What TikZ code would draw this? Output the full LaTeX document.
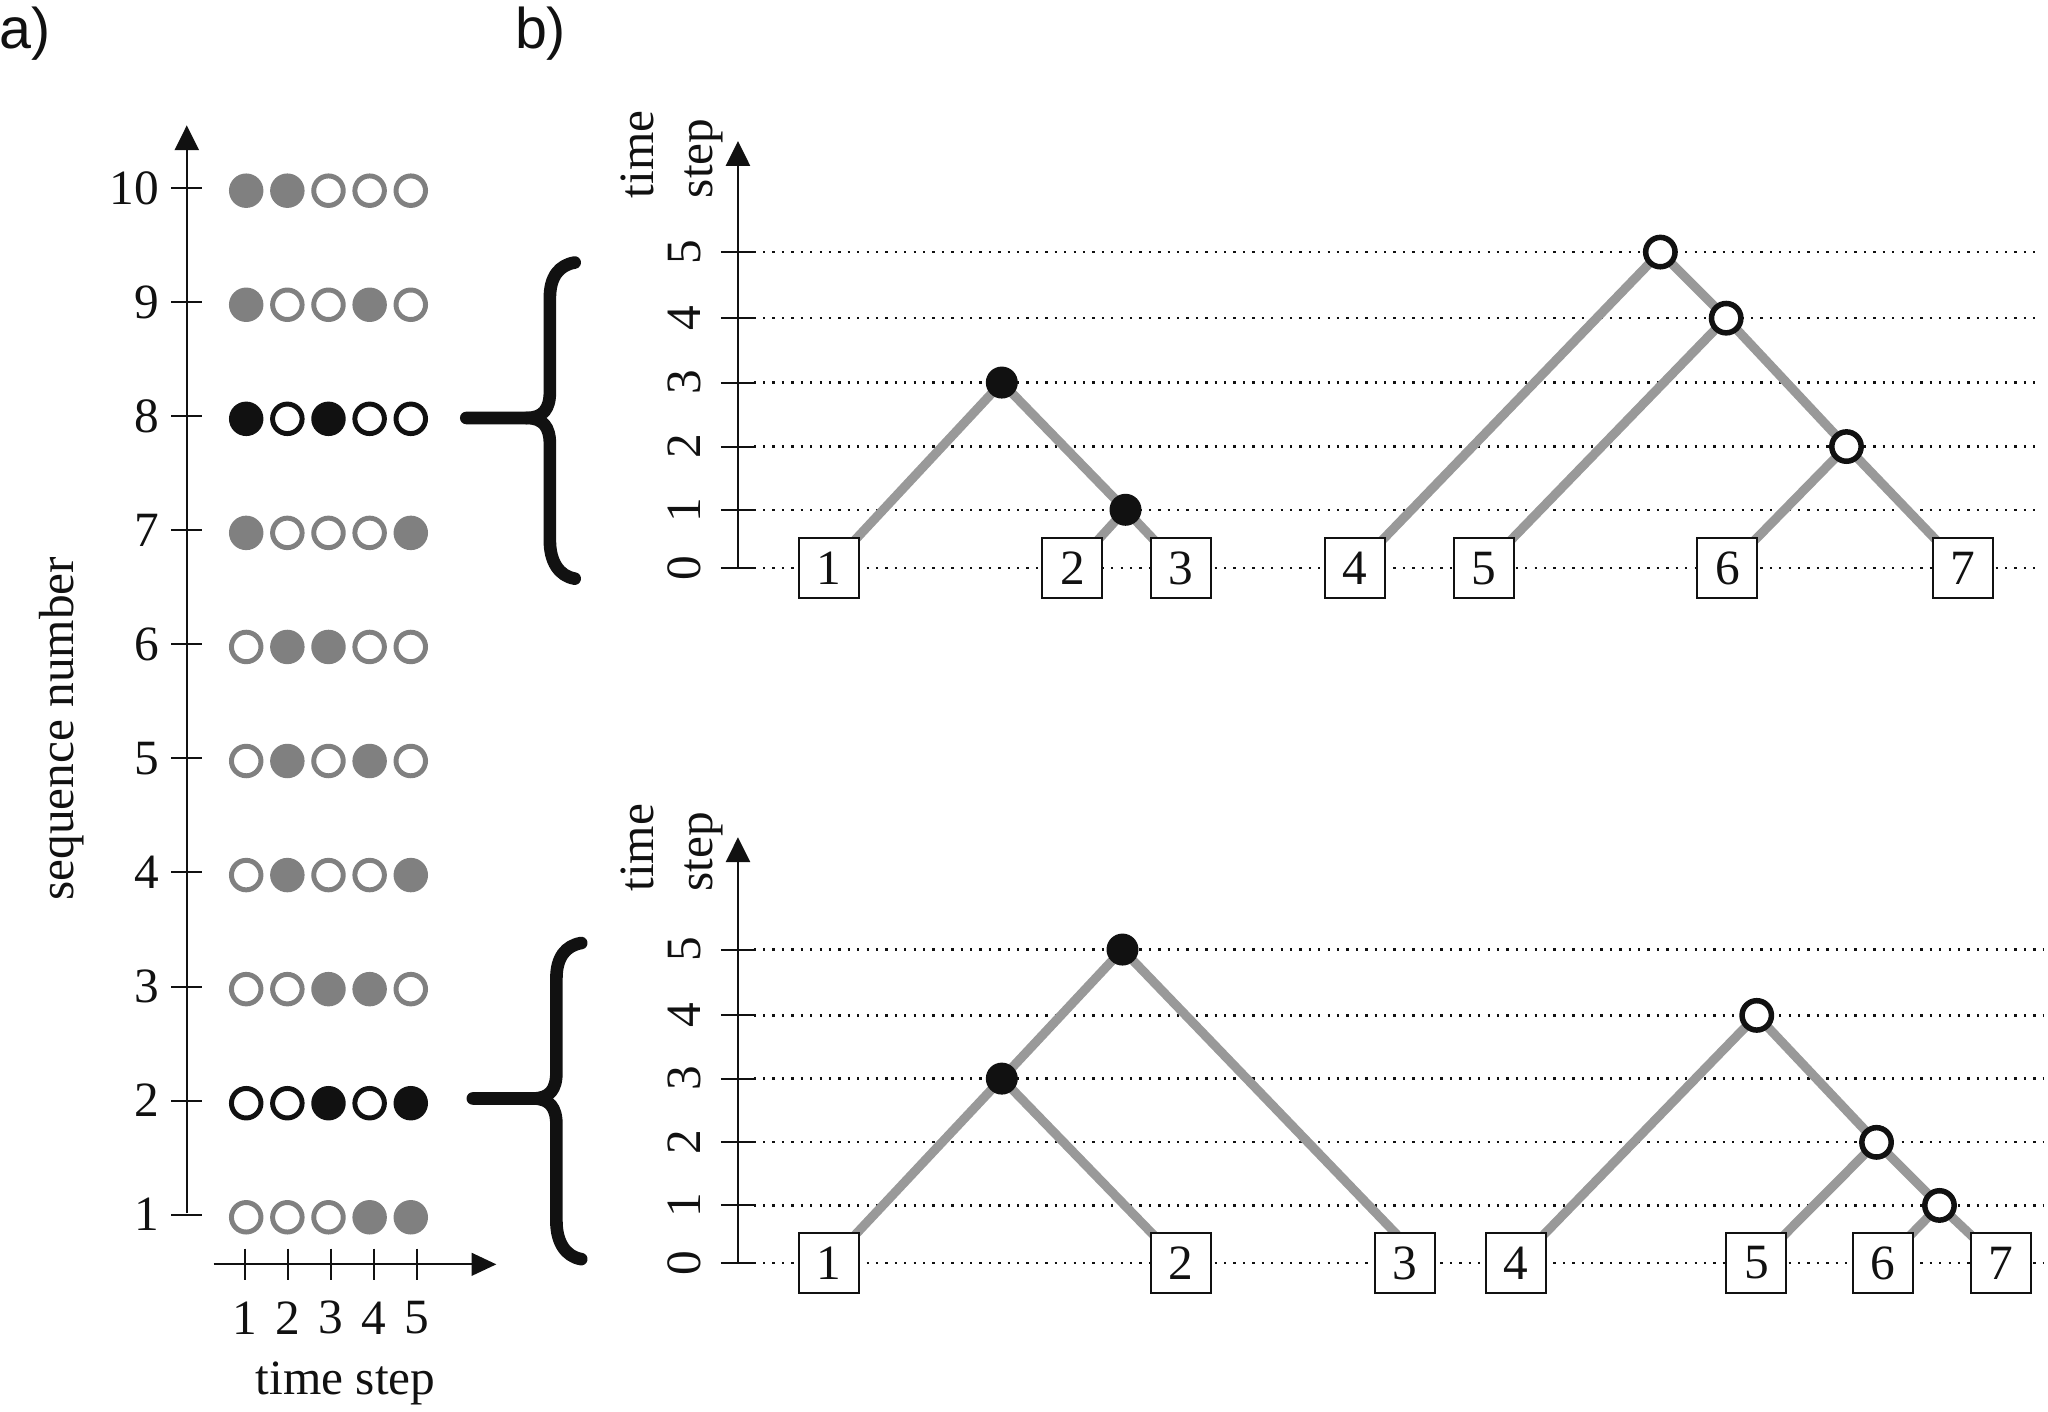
\documentclass[tikz,border=0pt]{standalone}
\usepackage{fontspec}
\setmainfont{Liberation Serif}
\newfontfamily\labfont{Liberation Sans}
\usetikzlibrary{arrows.meta,calc}
\pgfdeclarelayer{bg}
\pgfsetlayers{bg,main}
\definecolor{ink}{HTML}{111111}
\definecolor{dotgray}{HTML}{808080}
\definecolor{edgegray}{HTML}{999999}
\begin{document}
\begin{tikzpicture}[x=0.02cm, y=-0.02cm,
  txt/.style={font=\fontsize{21.5}{25.6}\selectfont, inner sep=0pt, text=ink},
  labtxt/.style={font=\labfont\fontsize{25}{30}\selectfont, inner sep=0pt, text=ink},
  axisline/.style={line width=0.85pt, draw=ink},
  tipV/.style={-{Triangle[length=0.38cm,width=0.37cm]}},
  tipH/.style={-{Triangle[length=0.38cm,width=0.35cm]}},
  st1g/.style={circle, inner sep=0pt, fill=dotgray, minimum size=0.528cm},
  st0g/.style={circle, inner sep=0pt, draw=dotgray, line width=2.16pt, minimum size=0.452cm},
  st1k/.style={circle, inner sep=0pt, fill=ink, minimum size=0.528cm},
  st0k/.style={circle, inner sep=0pt, draw=ink, line width=2.16pt, minimum size=0.452cm},
  brace/.style={line width=5.5pt, draw=ink, line cap=round, line join=round},
  leafbox/.style={txt, draw=ink, fill=white, line width=0.85pt, minimum size=0.92cm},
  blk/.style={circle, inner sep=0pt, fill=ink, minimum size=0.49cm},
  opn/.style={circle, inner sep=0pt, draw=ink, fill=white, line width=2.4pt, minimum size=0.45cm},
  edge/.style={line width=4pt, draw=edgegray},
  dotline/.style={line width=1pt, draw=ink, dash pattern=on 1pt off 3.1pt}
]
\useasboundingbox (0,0) rectangle (1568,1081);

% panel labels
\node[labtxt, anchor=base west] (la) at (-1,37) {a)};
\node[labtxt, anchor=base west] (lb) at (394,37) {b)};

% ---------- panel a ----------
\coordinate (ya0) at (143,929);
\coordinate (ya1) at (143,96);
\draw[axisline, tipV] (ya0) -- (ya1);
\foreach \k in {1,...,10} {
  \pgfmathsetmacro\yy{144+(10-\k)*87.33}
  \draw[axisline] (131,\yy) -- (155,\yy);
  \node[txt, anchor=east] (sn\k) at (122,\yy) {\k};
}
\foreach \row/\pat/\cl in {10/{1,1,0,0,0}/g, 9/{1,0,0,1,0}/g, 8/{1,0,1,0,0}/k,
   7/{1,0,0,0,1}/g, 6/{0,1,1,0,0}/g, 5/{0,1,0,1,0}/g, 4/{0,1,0,0,1}/g,
   3/{0,0,1,1,0}/g, 2/{0,0,1,0,1}/k, 1/{0,0,0,1,1}/g} {
  \pgfmathsetmacro\yy{146+(10-\row)*87.33}
  \foreach \v [count=\c] in \pat {
    \node[st\v\cl] (d\row-\c) at ({188.5+31.5*(\c-1)},\yy) {};
  }
}
\coordinate (xa0) at (163.5,968);
\coordinate (xa1) at (380,968);
\draw[axisline, tipH] (xa0) -- (xa1);
\foreach \k in {1,...,5} {
  \pgfmathsetmacro\xx{187.5+33*(\k-1)}
  \draw[axisline] (\xx,956) -- (\xx,980);
  \node[txt] (tn\k) at (\xx,1009) {\k};
}
\node[txt, anchor=base] (tsa) at (264.6,1068) {time step};
\node[txt, rotate=90] (seq) at (47,558) {sequence number};

% braces
\draw[brace] (440,201) .. controls (428,203) and (421,212) .. (421,228) -- (421,300)
  .. controls (421,313) and (416,320) .. (403,320) -- (357,320);
\draw[brace] (403,320) .. controls (416,320) and (421,327) .. (421,340) -- (421,414)
  .. controls (421,430) and (428,441) .. (440,443);
\begin{scope}[shift={(5,521)}]
\draw[brace] (440,201) .. controls (428,203) and (421,212) .. (421,228) -- (421,300)
  .. controls (421,313) and (416,320) .. (403,320) -- (357,320);
\draw[brace] (403,320) .. controls (416,320) and (421,327) .. (421,340) -- (421,414)
  .. controls (421,430) and (428,441) .. (440,443);
\end{scope}

% ---------- panel b, top ----------
\coordinate (yb0) at (565,435);
\coordinate (yb1) at (565,108);
\draw[axisline, tipV] (yb0) -- (yb1);
\foreach \lv/\yy in {0/435,1/390.3,2/341.9,3/292.9,4/243.6,5/193} {
  \draw[axisline] (552,\yy) -- (577,\yy);
  \begin{pgfonlayer}{bg}
    \draw[dotline] (577,\yy) -- (1558,\yy);
  \end{pgfonlayer}
  \node[txt, rotate=90] (tl\lv) at (524,\yy) {\lv};
}
\node[txt, rotate=90, align=left, anchor=west] (tsb) at (514.5,152) {time\\step};

\node[leafbox] (t1) at (634.5,435) {1};
\node[leafbox] (t2) at (821,435) {2};
\node[leafbox] (t3) at (904,435) {3};
\node[leafbox] (t4) at (1037.6,435) {4};
\node[leafbox] (t5) at (1136,435) {5};
\node[leafbox] (t6) at (1322.5,435) {6};
\node[leafbox] (t7) at (1503,435) {7};
\node[blk] (ta) at (767,292.9) {};
\node[blk] (tb) at (861.7,390.3) {};
\node[opn] (tc) at (1271.2,193) {};
\node[opn] (td) at (1321.6,243.6) {};
\node[opn] (te) at (1413.7,341.9) {};
\begin{pgfonlayer}{bg}
  \draw[edge] (ta.center) -- (t1.center);
  \draw[edge] (ta.center) -- (tb.center);
  \draw[edge] (tb.center) -- (t2.center);
  \draw[edge] (tb.center) -- (t3.center);
  \draw[edge] (tc.center) -- (t4.center);
  \draw[edge] (tc.center) -- (td.center);
  \draw[edge] (td.center) -- (t5.center);
  \draw[edge] (td.center) -- (te.center);
  \draw[edge] (te.center) -- (t6.center);
  \draw[edge] (te.center) -- (t7.center);
\end{pgfonlayer}

% ---------- panel b, bottom ----------
\coordinate (zb0) at (565,967);
\coordinate (zb1) at (565,641);
\draw[axisline, tipV] (zb0) -- (zb1);
\foreach \lv/\yy in {0/967,1/922.9,2/874.6,3/825.8,4/777.4,5/727} {
  \draw[axisline] (552,\yy) -- (577,\yy);
  \begin{pgfonlayer}{bg}
    \draw[dotline] (577,\yy) -- (1565,\yy);
  \end{pgfonlayer}
  \node[txt, rotate=90] (bl\lv) at (524,\yy) {\lv};
}
\node[txt, rotate=90, align=left, anchor=west] (tsc) at (514.5,683) {time\\step};

\node[leafbox] (u1) at (634.5,967) {1};
\node[leafbox] (u2) at (904,967) {2};
\node[leafbox] (u3) at (1075.4,967) {3};
\node[leafbox] (u4) at (1160.9,967) {4};
\node[leafbox] (u5) at (1344.7,967) {5};
\node[leafbox] (u6) at (1441.8,967) {6};
\node[leafbox] (u7) at (1531.7,967) {7};
\node[blk] (ua) at (767,825.8) {};
\node[blk] (ub) at (859.4,727) {};
\node[opn] (uc) at (1345,777.4) {};
\node[opn] (ud) at (1436.7,874.6) {};
\node[opn] (ue) at (1484.9,922.9) {};
\begin{pgfonlayer}{bg}
  \draw[edge] (ua.center) -- (u1.center);
  \draw[edge] (ua.center) -- (u2.center);
  \draw[edge] (ub.center) -- (ua.center);
  \draw[edge] (ub.center) -- ($(u3.center)+(15,0)$);
  \draw[edge] (uc.center) -- (u4.center);
  \draw[edge] (uc.center) -- (ud.center);
  \draw[edge] (ud.center) -- (u5.center);
  \draw[edge] (ud.center) -- (ue.center);
  \draw[edge] (ue.center) -- (u6.center);
  \draw[edge] (ue.center) -- (u7.center);
\end{pgfonlayer}
\end{tikzpicture}
\end{document}
